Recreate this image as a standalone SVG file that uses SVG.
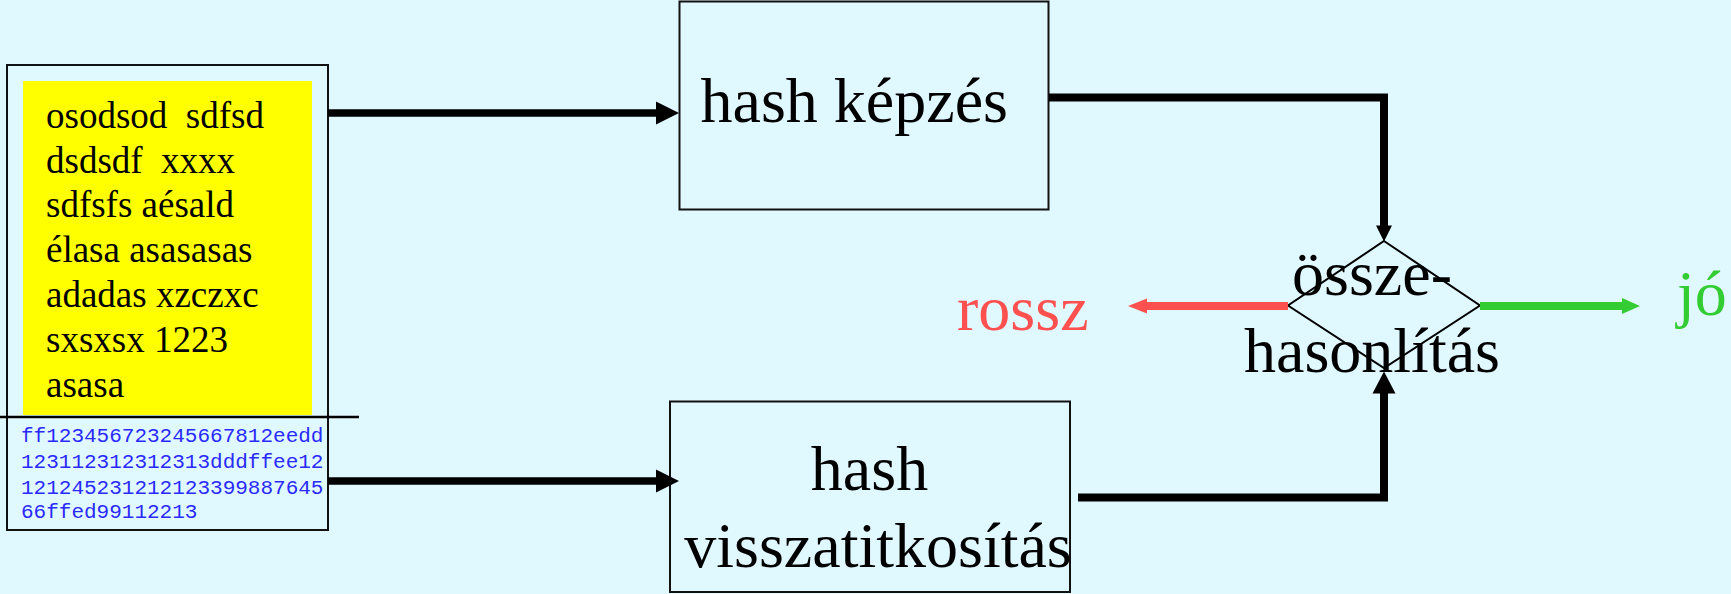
<svg xmlns="http://www.w3.org/2000/svg" width="1731" height="594" viewBox="0 0 1731 594">
<style>
.bg{fill:#e0f8ff}
.box{fill:none;stroke:#111;stroke-width:2}
.t{font-family:"Liberation Serif","Times New Roman",serif;fill:#000}
.doc{font-size:37px;white-space:pre}
.big{font-size:64px}
.mono{font-family:"Liberation Mono","Courier New",monospace;font-size:21px;fill:#2a2aff}
.conn{fill:none;stroke:#000;stroke-width:8}
.ah{fill:#000}
</style>
<rect class="bg" x="0" y="0" width="1731" height="594"/>
<g id="document">
  <rect x="23" y="81" width="289" height="334" fill="#ffff00"/>
  <rect class="box" x="7" y="65" width="321" height="465" stroke-width="2.5"/>
  <line x1="0" y1="417" x2="359" y2="417" stroke="#000" stroke-width="2.5"/>
  <text class="t doc" x="46" y="128">osodsod  sdfsd</text>
  <text class="t doc" x="46" y="173">dsdsdf  xxxx</text>
  <text class="t doc" x="46" y="217">sdfsfs aésald</text>
  <text class="t doc" x="46" y="262">élasa asasasas</text>
  <text class="t doc" x="46" y="307">adadas xzczxc</text>
  <text class="t doc" x="46" y="352">sxsxsx 1223</text>
  <text class="t doc" x="46" y="397">asasa</text>
  <text class="mono" x="21" y="442">ff123456723245667812eedd</text>
  <text class="mono" x="21" y="468">123112312312313dddffee12</text>
  <text class="mono" x="21" y="494">121245231212123399887645</text>
  <text class="mono" x="21" y="518">66ffed99112213</text>
</g>
<g id="hash-kepzes">
  <rect class="box" x="679.5" y="1.5" width="369" height="208"/>
  <text class="t big" x="700.5" y="121.5">hash képzés</text>
</g>
<g id="hash-visszatitkositas">
  <rect class="box" x="670" y="401.5" width="400" height="190.5"/>
  <text class="t big" x="869.5" y="490" text-anchor="middle">hash</text>
  <text class="t big" x="878" y="566.5" text-anchor="middle">visszatitkosítás</text>
</g>
<g id="osszehasonlitas">
  <polygon points="1384,241 1480,305.5 1384,368 1288,305.5" fill="none" stroke="#000" stroke-width="2"/>
  <text class="t big" x="1372" y="295" text-anchor="middle">össze-</text>
  <text class="t big" x="1372" y="372" text-anchor="middle">hasonlítás</text>
</g>
<g id="rossz">
  <text class="t big" x="957" y="330" fill="#ff5050" style="fill:#ff5050">rossz</text>
</g>
<g id="jo">
  <text class="t big" x="1677" y="315" style="fill:#33cc33">jó</text>
</g>
<g id="connectors">
  <line x1="328" y1="113" x2="658" y2="113" stroke="#000" stroke-width="7.3"/>
  <polygon class="ah" points="656,101.5 679,113 656,124.5"/>
  <line x1="328" y1="481" x2="658" y2="481" stroke="#000" stroke-width="7.3"/>
  <polygon class="ah" points="656,469.5 679,481 656,492.5"/>
  <polyline class="conn" points="1049,97.5 1384,97.5 1384,227"/>
  <polygon class="ah" points="1376,225.5 1384,241.5 1392,225.5"/>
  <polyline class="conn" points="1078,497.5 1384,497.5 1384,392"/>
  <polygon class="ah" points="1372.5,393.5 1384,371.5 1395.5,393.5"/>
  <line x1="1288" y1="306" x2="1146" y2="306" stroke="#ff5050" stroke-width="8"/>
  <polygon points="1147,298.5 1128,306 1147,313.5" fill="#ff5050"/>
  <line x1="1480" y1="306" x2="1624" y2="306" stroke="#33cc33" stroke-width="8"/>
  <polygon points="1622,298 1640,306 1622,314" fill="#33cc33"/>
</g>
</svg>
